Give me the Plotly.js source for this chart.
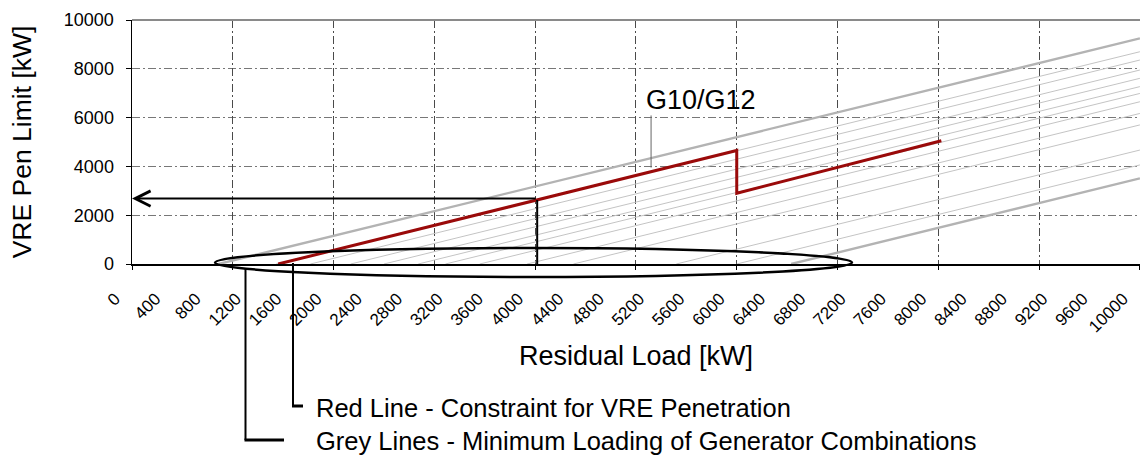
<!DOCTYPE html>
<html>
<head>
<meta charset="utf-8">
<script src="https://cdn.plot.ly/plotly-3.0.1.min.js"></script>
<style>html,body{margin:0;padding:0;background:#fff;}#chart{width:1143px;height:460px;}</style>
</head>
<body>
<div id="chart"></div>
<script>
// Grey lines: minimum loading of generator combinations
// each line starts at greyStart (VRE limit = 0) and reaches greyEnd at 10000 kW
var greyStart = [860, 1430, 1770, 2170, 2500, 2840, 3110, 3450, 3920, 4380, 5400, 6000, 6540];
var greyEnd   = [9250, 8700, 8360, 7950, 7610, 7270, 6990, 6650, 6170, 5700, 4670, 4060, 3510];
var greyDouble = [true, false, false, false, false, false, false, false, false, false, false, false, true];

// Red line: constraint for VRE penetration
var redX = [1450, 6000, 6000, 8030];
var redY = [0, 4650, 2900, 5050];

// Reading example (arrows)
var readX = 4020;
var readY = 2680;

// Axis ticks
var xTickVals = [0, 400, 800, 1200, 1600, 2000, 2400, 2800, 3200, 3600, 4000, 4400, 4800,
                 5200, 5600, 6000, 6400, 6800, 7200, 7600, 8000, 8400, 8800, 9200, 9600, 10000];
var xTickText = ['0', '400', '800', '1200', '1600', '2000', '2400', '2800', '3200', '3600', '4000', '4400', '4800',
                 '5200', '5600', '6000', '6400', '6800', '7200', '7600', '8000', '8400', '8800', '9200', '9600', '10000'];
var yTickVals = [0, 2000, 4000, 6000, 8000, 10000];
var yTickText = ['0', '2000', '4000', '6000', '8000', '10000'];

var labelG = 'G10/G12';
var labelGPos = {x: 5080, y: 6720, px: 5150, py: 3950, ty: 6150};
var txtRed = 'Red Line - Constraint for VRE Penetration';
var txtGrey = 'Grey Lines - Minimum Loading of Generator Combinations';

var FONT = 'Liberation Sans, Arial, sans-serif';
var PAD = '\u00a0\u00a0\u00a0\u00a0\u00a0';  // trailing padding so rotated labels end just left of their tick

var traces = [];
for (var i = 0; i < greyStart.length; i++) {
  traces.push({
    type: 'scatter', mode: 'lines',
    x: [greyStart[i], 10000], y: [0, greyEnd[i]],
    line: {color: greyDouble[i] ? '#b3b3b3' : '#c4c4c4', width: greyDouble[i] ? 2.4 : 1},
    hoverinfo: 'skip'
  });
}
traces.push({
  type: 'scatter', mode: 'lines', x: redX, y: redY,
  line: {color: '#9a0a0a', width: 3}, hoverinfo: 'skip'
});
// helper (empty) trace so that the grid axis x2 is drawn
traces.push({type: 'scatter', mode: 'lines', x: [], y: [], xaxis: 'x2', yaxis: 'y', hoverinfo: 'skip'});

// plot area geometry (for paper-referenced callouts)
var L = 132, R = 3, T = 20, B = 196, W = 1143, H = 460;
var PW = W - L - R, PH = H - T - B;
function px(x) { return (x - L) / PW; }
function py(y) { return (H - B - y) / PH; }

var shapes = [
  {type: 'line', xref: 'paper', yref: 'paper', x0: 0, x1: 1, y0: 1, y1: 1, line: {color: '#8a8a8a', width: 2}},
  {type: 'circle', xref: 'paper', yref: 'paper', x0: px(215), x1: px(852), y0: py(277), y1: py(248), line: {color: '#000', width: 2.5}},
  {type: 'line', xref: 'paper', yref: 'paper', x0: px(293), x1: px(293), y0: py(263), y1: py(406), line: {color: '#000', width: 2}},
  {type: 'line', xref: 'paper', yref: 'paper', x0: px(292), x1: px(303), y0: py(406), y1: py(406), line: {color: '#000', width: 3}},
  {type: 'line', xref: 'paper', yref: 'paper', x0: px(245.5), x1: px(245.5), y0: py(268), y1: py(440), line: {color: '#000', width: 2}},
  {type: 'line', xref: 'paper', yref: 'paper', x0: px(244.5), x1: px(284), y0: py(440), y1: py(440), line: {color: '#000', width: 3}}
];

var annotations = [
  {x: labelGPos.x, y: labelGPos.y, xref: 'x', yref: 'y', text: labelG, showarrow: false,
   xanchor: 'left', yanchor: 'middle', font: {size: 27, color: '#000', family: FONT}},
  {x: labelGPos.px, y: labelGPos.py, xref: 'x', yref: 'y', ax: labelGPos.px, ay: labelGPos.ty, axref: 'x', ayref: 'y',
   text: '', showarrow: true, arrowhead: 0, arrowwidth: 1, arrowcolor: '#666'},
  {x: 0, y: readY, xref: 'x', yref: 'y', ax: readX, ay: readY, axref: 'x', ayref: 'y',
   text: '', showarrow: true, arrowhead: 5, arrowsize: 1.5, arrowwidth: 2, arrowcolor: '#000'},
  {x: readX, y: 0, xref: 'x', yref: 'y', ax: readX, ay: readY, axref: 'x', ayref: 'y',
   text: '', showarrow: true, arrowhead: 0, arrowwidth: 2, arrowcolor: '#000'},
  {x: px(314), y: py(408), xref: 'paper', yref: 'paper', text: txtRed, showarrow: false,
   xanchor: 'left', yanchor: 'middle', font: {size: 25.5, color: '#000', family: FONT}},
  {x: px(314), y: py(441), xref: 'paper', yref: 'paper', text: txtGrey, showarrow: false,
   xanchor: 'left', yanchor: 'middle', font: {size: 25.5, color: '#000', family: FONT}}
];

var layout = {
  width: W, height: H,
  margin: {l: L, r: R, t: T, b: B},
  paper_bgcolor: '#fff', plot_bgcolor: '#fff',
  showlegend: false,
  font: {family: FONT, color: '#000'},
  xaxis: {
    range: [0, 10001], tickmode: 'array', tickvals: xTickVals,
    ticktext: xTickText.map(function (t) { return t + PAD; }),
    tickangle: -45, ticks: '', showgrid: false, zeroline: false,
    showline: true, linecolor: '#000', linewidth: 1.5,
    tickfont: {size: 17, family: FONT, color: '#000'}, ticklabelstandoff: 0,
    ticklabeloverflow: 'allow',
    title: {text: 'Residual Load [kW]', font: {size: 27, family: FONT, color: '#000'}, standoff: 10},
    automargin: false, fixedrange: true
  },
  xaxis2: {
    overlaying: 'x', anchor: 'y', side: 'bottom', range: [0, 10001],
    tickmode: 'linear', tick0: 0, dtick: 1000, showticklabels: false,
    ticks: 'outside', ticklen: 5, tickcolor: '#000', tickwidth: 1,
    showgrid: true, gridcolor: '#4a4a4a', gridwidth: 1, griddash: '8px,3px,2px,3px',
    zeroline: false, showline: false, automargin: false, fixedrange: true
  },
  yaxis: {
    range: [0, 10000], tickmode: 'array', tickvals: yTickVals, ticktext: yTickText,
    ticks: 'outside', ticklen: 5, tickcolor: '#000',
    showline: true, linecolor: '#000', linewidth: 1.5,
    showgrid: true, gridcolor: '#777', gridwidth: 1, griddash: '8px,3px,2px,3px',
    zeroline: false, tickfont: {size: 18, family: FONT, color: '#000'}, ticklabelstandoff: 8,
    title: {text: 'VRE Pen Limit [kW]', font: {size: 26.5, family: FONT, color: '#000'}, standoff: 24},
    automargin: false, fixedrange: true
  },
  shapes: shapes,
  annotations: annotations
};

Plotly.newPlot('chart', traces, layout, {staticPlot: true, displayModeBar: false});
</script>
</body>
</html>
